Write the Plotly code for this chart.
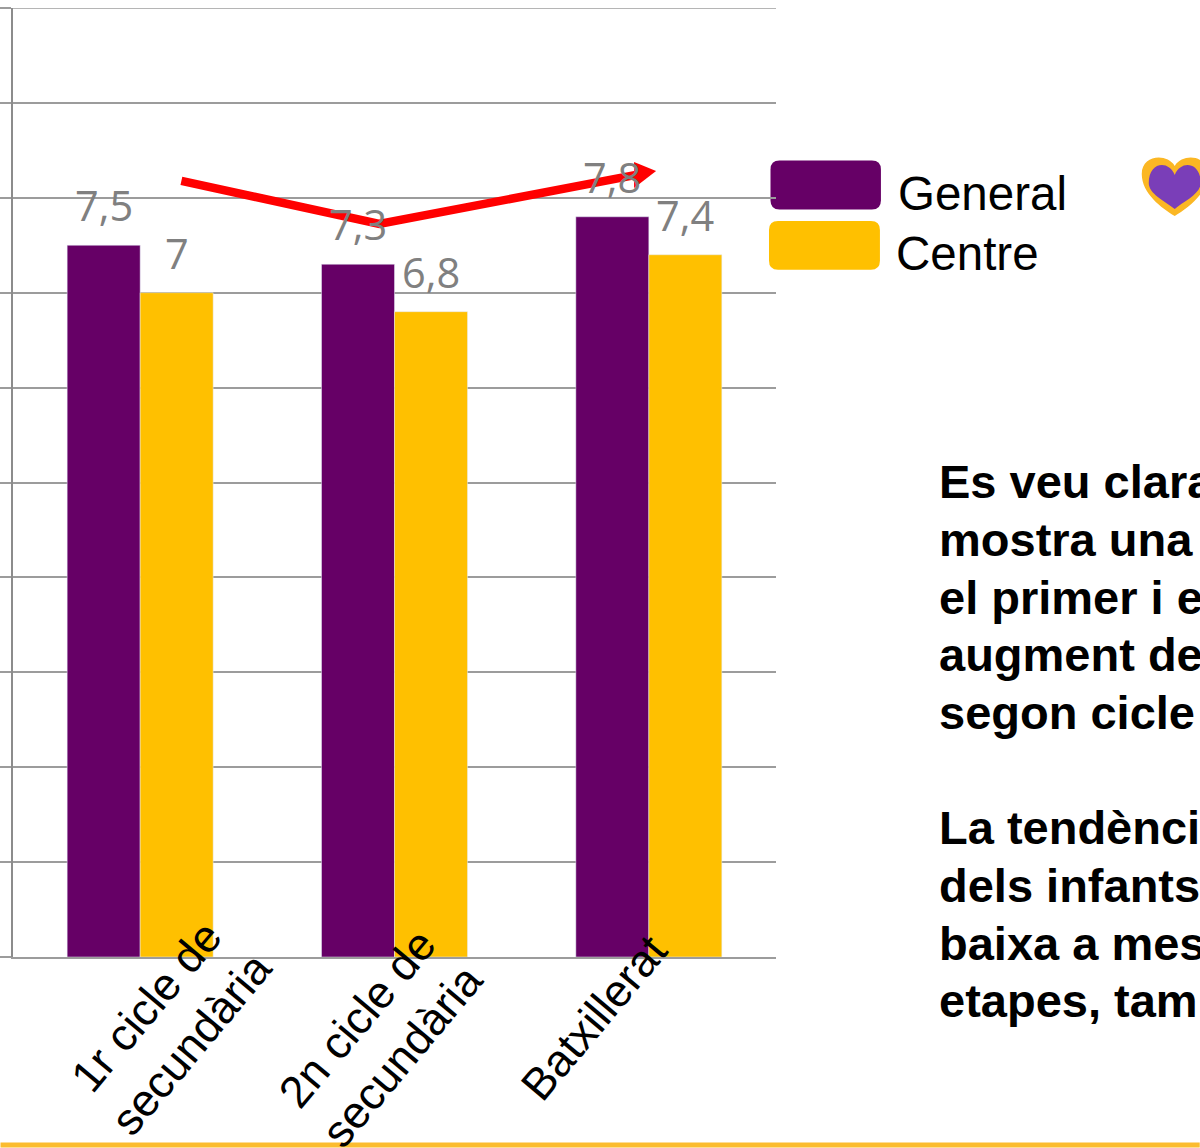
import plotly.graph_objects as go

categories = ["1r cicle de<br>secundària", "2n cicle de<br>secundària", "Batxillerat"]
general = [7.5, 7.3, 7.8]
centre = [7.0, 6.8, 7.4]
series_names = ["General", "Centre"]
body_lines = [
    "Es veu clarament", "mostra una", "el primer i el", "augment de", "segon cicle",
    "", "La tendència", "dels infants", "baixa a mesura", "etapes, tamb",
]

W, H = 1200, 1148
L, R, T, B = 12.5, 776, 8, 957.5
PURPLE, YELLOW, GREY, LABEL = "#660066", "#FFC000", "#9C9C9C", "#808080"
BAR = 0.287


def px(x):
    return (x - L) / (R - L)


def py(y):
    return 1 - (y - T) / (B - T)


def pt(x, y):
    return f"{px(x):.5f},{py(y):.5f}"


def heart(cx, notch, top, bottom, half):
    sh = top - notch
    return (f"M{pt(cx, notch)} C{pt(cx - half * 0.25, top + sh * 0.1)} {pt(cx - half, top - sh * 0.1)} {pt(cx - half, notch + 8)} "
            f"C{pt(cx - half, notch + (bottom - notch) * 0.55)} {pt(cx - half * 0.4, bottom - 8)} {pt(cx, bottom)} "
            f"C{pt(cx + half * 0.4, bottom - 8)} {pt(cx + half, notch + (bottom - notch) * 0.55)} {pt(cx + half, notch + 8)} "
            f"C{pt(cx + half, top - sh * 0.1)} {pt(cx + half * 0.25, top + sh * 0.1)} {pt(cx, notch)} Z")


def rrect(x0, y0, x1, y1, r):
    return (f"M{pt(x0 + r, y0)} L{pt(x1 - r, y0)} Q{pt(x1, y0)} {pt(x1, y0 + r)} L{pt(x1, y1 - r)} "
            f"Q{pt(x1, y1)} {pt(x1 - r, y1)} L{pt(x0 + r, y1)} Q{pt(x0, y1)} {pt(x0, y1 - r)} "
            f"L{pt(x0, y0 + r)} Q{pt(x0, y0)} {pt(x0 + r, y0)} Z")


fig = go.Figure()
fig.add_bar(x=[0, 1, 2], y=general, name=series_names[0], marker_color=PURPLE, width=BAR, offset=-BAR)
fig.add_bar(x=[0, 1, 2], y=centre, name=series_names[1], marker_color=YELLOW, width=BAR, offset=0)

annotations = []
for i in range(3):
    for vals, off in ((general, -BAR / 2), (centre, BAR / 2)):
        annotations.append(dict(
            x=i + off, y=vals[i], xref="x", yref="y", yanchor="middle", yshift=40, showarrow=False,
            text=f"{vals[i]:g}".replace(".", ","),
            font=dict(family="Open Sans", size=41.5, color=LABEL),
        ))

label_centres = [(169, 1026), (380, 1038), (594, 1018)]
for cat, (cx, cy) in zip(categories, label_centres):
    annotations.append(dict(
        x=px(cx), y=py(cy), xref="paper", yref="paper", xanchor="center", yanchor="middle", showarrow=False,
        text=cat, textangle=-50, align="center",
        font=dict(family="Liberation Sans", size=45, color="black"),
    ))

for name, x, y in ((series_names[0], 898, 194), (series_names[1], 896, 254)):
    annotations.append(dict(
        x=px(x), y=py(y), xref="paper", yref="paper", xanchor="left", yanchor="middle", showarrow=False,
        xshift=-2, text=name, font=dict(family="Liberation Sans", size=47.5, color="black"),
    ))

for n, line in enumerate(body_lines):
    if line:
        annotations.append(dict(
            x=px(939), y=py(482 + n * 57.7), xref="paper", yref="paper", xanchor="left", yanchor="middle",
            showarrow=False, xshift=-2, text=line, align="left",
            font=dict(family="Liberation Sans", size=47, color="black", weight="bold"),
        ))

shapes = [
    dict(type="path", xref="paper", yref="paper", layer="below", path=rrect(770.5, 160.5, 881, 209.5, 9),
         fillcolor=PURPLE, line_width=0),
    dict(type="path", xref="paper", yref="paper", layer="below", path=rrect(769, 221, 880, 270, 9),
         fillcolor=YELLOW, line_width=0),
    dict(type="path", xref="paper", yref="paper", layer="above", path=heart(1175, 166, 154, 216, 33),
         fillcolor="#FBB724", line_width=0),
    dict(type="path", xref="paper", yref="paper", layer="above", path=heart(1175, 175, 161, 209, 26),
         fillcolor="#7A3EB8", line_width=0),
    dict(type="rect", xref="paper", yref="paper", layer="above", x0=px(0), x1=px(1200), y0=py(1143), y1=py(1148),
         fillcolor="#FBBC2F", line_width=0),
    dict(type="line", xref="paper", yref="y", layer="below", x0=px(0), x1=1, y0=10, y1=10,
         line=dict(color=GREY, width=1.5)),
    dict(type="path", xref="paper", yref="paper", layer="above",
         path=f"M{pt(181, 181)} L{pt(379, 224)} L{pt(636, 175)}", line=dict(color="#FF0000", width=8.5)),
    dict(type="path", xref="paper", yref="paper", layer="above",
         path=f"M{pt(634, 162)} L{pt(656, 171)} L{pt(634, 188)} Z", fillcolor="#FF0000", line_width=0),
]

fig.update_layout(
    width=W, height=H, barmode="overlay", showlegend=False,
    paper_bgcolor="white", plot_bgcolor="white",
    margin=dict(l=L, r=W - R, t=T, b=H - B, pad=0, autoexpand=False),
    annotations=annotations, shapes=shapes,
    xaxis=dict(range=[-0.5, 2.5], tickvals=[0, 1, 2], showticklabels=False, ticks="", showgrid=False,
               zeroline=False, showline=True, linecolor=GREY, linewidth=1.5),
    yaxis=dict(range=[0, 10], dtick=1, showticklabels=False, ticks="outside", ticklen=12, tickcolor=GREY, tickwidth=1.5,
               gridcolor=GREY, gridwidth=1.5, zeroline=False, showline=True, linecolor="#8C8C8C", linewidth=1.5),
)

fig.write_html(
    "out.html",
    config=dict(displayModeBar=False),
    post_script="document.documentElement.style.overflow='hidden';document.body.style.margin='0';",
)
